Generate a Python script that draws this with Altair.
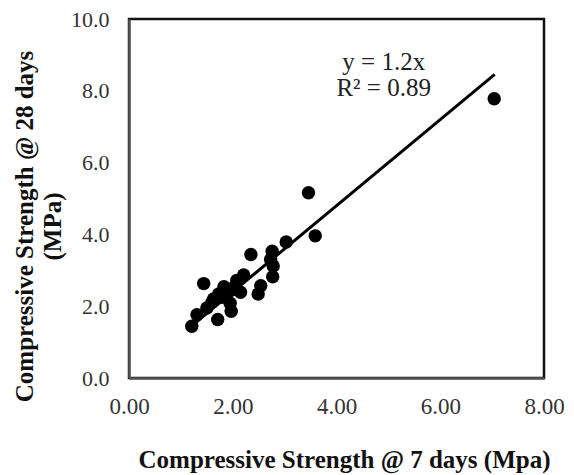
import altair as alt
import pandas as pd

# Compressive strength at 7 days (x) and 28 days (y), MPa
x7 = [7.04, 3.46, 3.59, 3.03, 2.35, 2.76, 2.73, 2.78, 2.77, 2.54, 2.49, 2.21, 2.08, 2.15,
      1.44, 1.83, 1.95, 1.63, 1.79, 1.95, 1.97, 1.71, 1.50, 1.31, 1.21, 1.73, 2.05, 1.60]
y28 = [7.78, 5.16, 3.96, 3.79, 3.44, 3.53, 3.30, 3.12, 2.82, 2.57, 2.34, 2.87, 2.72, 2.39,
       2.63, 2.54, 2.43, 2.20, 2.25, 2.08, 1.86, 1.63, 1.95, 1.76, 1.44, 2.34, 2.57, 2.11]

# Trend line y = 1.2x
slope = 1.2
trend_x = [1.21, 7.05]
trend_y = [slope * v for v in trend_x]

eq_text = ["y = 1.2x", "R² = 0.89"]
eq_x = [4.91, 4.91]
eq_y = [8.79, 8.07]

pts = pd.DataFrame({"x": x7, "y": y28})
trend = pd.DataFrame({"x": trend_x, "y": trend_y})
eq = pd.DataFrame({"x": eq_x, "y": eq_y, "t": eq_text})

FONT = "Liberation Serif"

xscale = alt.Scale(domain=[0, 8], nice=False, zero=True)
yscale = alt.Scale(domain=[0, 10], nice=False, zero=True)

xaxis = alt.Axis(
    title="Compressive Strength @ 7 days (Mpa)",
    values=[0, 2, 4, 6, 8], format=".2f", grid=False, ticks=False, labelFlush=False,
    labelFont=FONT, labelFontSize=23, labelColor="#333333", labelPadding=17,
    titleFont=FONT, titleFontSize=25, titleFontWeight="bold", titleColor="#111111",
    titleBaseline="alphabetic", titleY=89, titleX=215,
    domainColor="#555555", domainWidth=2.5,
)
yaxis = alt.Axis(
    title=["Compressive Strength @ 28 days", "(MPa)"],
    values=[0, 2, 4, 6, 8, 10], format=".1f", grid=False, ticks=False, labelFlush=False,
    labelFont=FONT, labelFontSize=22, labelColor="#333333", labelPadding=20,
    titleFont=FONT, titleFontSize=25, titleFontWeight="bold", titleColor="#111111",
    titleLineHeight=28, titleY=207, titleX=-117, titleBaseline="top", titleAngle=-90,
    domainColor="#555555", domainWidth=2.5,
)

base = alt.Chart(pts).mark_circle(size=180, color="black", opacity=1).encode(
    x=alt.X("x:Q", scale=xscale, axis=xaxis),
    y=alt.Y("y:Q", scale=yscale, axis=yaxis),
)

line = alt.Chart(trend).mark_line(color="black", strokeWidth=3).encode(
    x=alt.X("x:Q", scale=xscale),
    y=alt.Y("y:Q", scale=yscale),
)

txt = alt.Chart(eq).mark_text(font=FONT, fontSize=25, color="#222222", align="center", baseline="middle").encode(
    x=alt.X("x:Q", scale=xscale),
    y=alt.Y("y:Q", scale=yscale),
    text="t:N",
)

chart = alt.layer(line, base, txt).properties(
    width=415, height=359,
    background="white",
    autosize=alt.AutoSizeParams(type="none"),
    padding={"left": 121, "top": 11, "right": 20, "bottom": 97},
).configure_view(
    stroke="#111111", strokeWidth=2.5
)

chart.save("out.html", embed_options={"renderer": "svg", "actions": False})
